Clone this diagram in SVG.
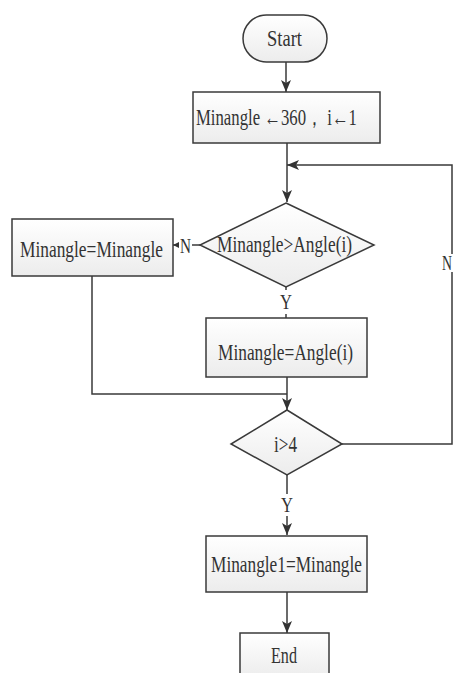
<svg xmlns="http://www.w3.org/2000/svg" width="455" height="673" viewBox="0 0 455 673">
<defs>
<linearGradient id="g" x1="0" y1="0" x2="0" y2="1"><stop offset="0" stop-color="#ffffff"/><stop offset="1" stop-color="#ececec"/></linearGradient>
<marker id="a" viewBox="0 0 12 10" refX="12" refY="5" markerWidth="12" markerHeight="10" markerUnits="userSpaceOnUse" orient="auto"><path d="M0,0 L12,5 L0,10 L3,5 z" fill="#333"/></marker>
<marker id="s" viewBox="0 0 8 8" refX="8" refY="4" markerWidth="6" markerHeight="6" markerUnits="userSpaceOnUse" orient="auto"><path d="M0,0 L8,4 L0,8 z" fill="#333"/></marker>
</defs>
<style>
.n{fill:url(#g);stroke:#3a3a3a;stroke-width:1.5}
.c{fill:none;stroke:#3a3a3a;stroke-width:1.5}
text{font-family:"Liberation Serif","Times New Roman",serif;font-size:23px;fill:#333}
.l{font-size:20px}
</style>
<rect width="455" height="673" fill="#fff"/>
<g id="connectors">
<path class="c" d="M286,62 V92" marker-end="url(#a)"/>
<path class="c" d="M287,143 V202" marker-end="url(#a)"/>
<path class="c" d="M342,444 H452 V165 H287" marker-end="url(#a)"/>
<path class="c" d="M200,245 H173" marker-end="url(#s)"/>
<path class="c" d="M286,287 V318"/>
<path class="c" d="M92,276 V394 H287"/>
<path class="c" d="M287,377 V410" marker-end="url(#a)"/>
<path class="c" d="M287,475 V535" marker-end="url(#a)"/>
<path class="c" d="M287,592 V633" marker-end="url(#a)"/>
<rect x="179" y="236" width="13" height="18" fill="#fff"/>
<text class="l" transform="translate(180,253) scale(0.8,1)" textLength="13.75" lengthAdjust="spacingAndGlyphs">N</text>
<rect x="441" y="254" width="13" height="18" fill="#fff"/>
<text class="l" transform="translate(442,270) scale(0.8,1)" textLength="12.5" lengthAdjust="spacingAndGlyphs">N</text>
<rect x="278" y="290" width="16" height="24" fill="#fff"/>
<text class="l" transform="translate(280,309) scale(0.8,1)" textLength="15" lengthAdjust="spacingAndGlyphs">Y</text>
<rect x="280" y="494" width="16" height="22" fill="#fff"/>
<text class="l" transform="translate(281,512) scale(0.8,1)" textLength="15" lengthAdjust="spacingAndGlyphs">Y</text>
</g>
<g id="start"><rect class="n" x="243" y="15" width="84" height="47" rx="23.5"/><text transform="translate(267,46) scale(0.78,1)" textLength="44.9" lengthAdjust="spacingAndGlyphs">Start</text></g>
<g id="init"><rect class="n" x="193" y="92" width="187" height="51"/><text transform="translate(196,125) scale(0.78,1)" textLength="206.4" lengthAdjust="spacingAndGlyphs">Minangle ←360， i←1</text></g>
<g id="cond1"><polygon class="n" points="286,203 374,245 286,287 200,245"/><text transform="translate(217,252) scale(0.78,1)" textLength="173.1" lengthAdjust="spacingAndGlyphs">Minangle&gt;Angle(i)</text></g>
<g id="keep"><rect class="n" x="12" y="219" width="161" height="57"/><text transform="translate(20,257) scale(0.78,1)" textLength="183.3" lengthAdjust="spacingAndGlyphs">Minangle=Minangle</text></g>
<g id="assign"><rect class="n" x="206" y="318" width="161" height="59"/><text transform="translate(218,360) scale(0.78,1)" textLength="173.1" lengthAdjust="spacingAndGlyphs">Minangle=Angle(i)</text></g>
<g id="cond2"><polygon class="n" points="287,410 342,444 287,475 231,444"/><text transform="translate(274,452) scale(0.78,1)" textLength="29.5" lengthAdjust="spacingAndGlyphs">i&gt;4</text></g>
<g id="result"><rect class="n" x="206" y="536" width="161" height="56"/><text transform="translate(211,572) scale(0.78,1)" textLength="193.6" lengthAdjust="spacingAndGlyphs">Minangle1=Minangle</text></g>
<g id="end"><rect class="n" x="240" y="633" width="89" height="45"/><text transform="translate(271,663) scale(0.78,1)" textLength="33.3" lengthAdjust="spacingAndGlyphs">End</text></g>
</svg>
